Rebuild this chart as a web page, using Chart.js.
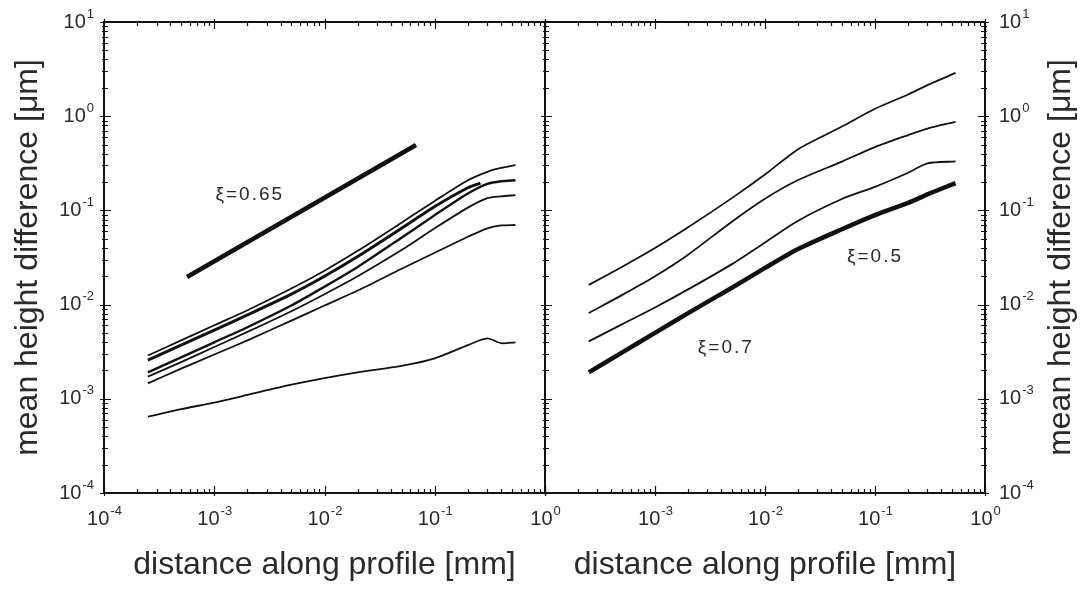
<!DOCTYPE html>
<html>
<head>
<meta charset="utf-8">
<script src="https://cdn.jsdelivr.net/npm/chart.js@4"></script>
<style>
  html, body { margin: 0; background: #fff; }
  #wrap { position: relative; width: 1083px; height: 592px; }
  canvas { position: absolute; left: 0; top: 0; }
</style>
</head>
<body>
<div id="wrap">
  <canvas id="leftChart" width="1083" height="592"></canvas>
  <canvas id="rightChart" width="1083" height="592"></canvas>
</div>
<script>
// data (distance in mm, mean height difference in um)
const xLeft = [2.5e-4, 5e-4, 1e-3, 2e-3, 5e-3, 1e-2, 2e-2, 5e-2, 0.1, 0.2, 0.3, 0.4, 0.54];
const curveA = [2.88e-3, 4.17e-3, 6.03e-3, 8.71e-3, 0.0148, 0.0229, 0.0372, 0.0741, 0.126, 0.209, 0.257, 0.282, 0.302];
const curveC = [1.91e-3, 2.75e-3, 3.98e-3, 5.75e-3, 9.77e-3, 0.0155, 0.0251, 0.0513, 0.0891, 0.151, 0.191, 0.204, 0.209];
const curveD = [1.72e-3, 2.45e-3, 3.55e-3, 5.13e-3, 8.51e-3, 0.0129, 0.0200, 0.0380, 0.0646, 0.107, 0.135, 0.141, 0.145];
const curveE = [1.46e-3, 2.09e-3, 2.95e-3, 4.17e-3, 6.76e-3, 9.77e-3, 0.0141, 0.0240, 0.0355, 0.0525, 0.0646, 0.0692, 0.070];
const curveF = [6.46e-4, 7.76e-4, 9.12e-4, 1.10e-3, 1.41e-3, 1.66e-3, 1.91e-3, 2.24e-3, 2.69e-3, 3.72e-3, 4.37e-3, 3.89e-3, 3.98e-3];
const xB = [2.5e-4, 5e-4, 1e-3, 2e-3, 5e-3, 1e-2, 2e-2, 5e-2, 0.1, 0.2, 0.26];
const curveB = [2.57e-3, 3.72e-3, 5.37e-3, 7.76e-3, 0.0129, 0.0200, 0.0324, 0.0646, 0.110, 0.174, 0.195];
const fitLeftX = [5.66e-4, 0.0676];
const fitLeftY = [0.0196, 0.494];

const xRight = [2.5e-4, 5e-4, 1e-3, 2e-3, 5e-3, 1e-2, 2e-2, 5e-2, 0.1, 0.2, 0.3, 0.54];
const curveR1 = [0.0162, 0.0251, 0.0398, 0.0661, 0.135, 0.240, 0.447, 0.776, 1.20, 1.70, 2.14, 2.88];
const curveR2 = [8.13e-3, 0.0126, 0.0200, 0.0339, 0.0759, 0.133, 0.210, 0.330, 0.470, 0.630, 0.740, 0.870];
const curveR3 = [4.07e-3, 6.17e-3, 9.33e-3, 0.0145, 0.0269, 0.0457, 0.0776, 0.132, 0.178, 0.251, 0.316, 0.331];
const curveR4 = [1.91e-3, 3.09e-3, 5.01e-3, 8.13e-3, 0.0151, 0.0245, 0.0389, 0.0631, 0.0891, 0.120, 0.148, 0.195];

const xExpLeft = [-4, -3, -2, -1, 0];
const xExpRight = [-3, -2, -1, 0];
const yExp = [-4, -3, -2, -1, 0, 1];

const xTitle = 'distance along profile [mm]';
const yTitle = 'mean height difference [\u03bcm]';

// slope labels: text, x, y (data coords)
const notesLeft = [['\u03be=0.65', 2.1e-3, 0.146]];
const notesRight = [['\u03be=0.7', 4.4e-3, 3.5e-3], ['\u03be=0.5', 0.1, 0.032]];

const INK = '#111';
const TEXT = '#2a2a2a';
const FONT = '"Liberation Sans", Arial, sans-serif';

function pts(xs, ys) {
  return xs.map((x, i) => ({ x: x, y: ys[i] }));
}

function line(data, w) {
  return {
    data: data,
    borderColor: INK,
    borderWidth: w || 1.8,
    pointRadius: 0,
    tension: 0.25,
    fill: false
  };
}

function drawPow(ctx, exp, x, y, align) {
  const base = '10', sup = String(exp);
  ctx.font = '20px ' + FONT;
  const wb = ctx.measureText(base).width;
  ctx.font = '13px ' + FONT;
  const ws = ctx.measureText(sup).width;
  let x0 = x - (wb + ws) / 2;
  if (align === 'right') x0 = x - wb - ws - 1;
  if (align === 'left') x0 = x;
  ctx.textAlign = 'left';
  ctx.textBaseline = 'middle';
  ctx.font = '20px ' + FONT;
  ctx.fillText(base, x0, y);
  ctx.font = '13px ' + FONT;
  ctx.fillText(sup, x0 + wb + 1, y - 8);
}

const framePlugin = {
  id: 'frame',
  afterDraw(chart, args, opts) {
    const ctx = chart.ctx;
    const a = chart.chartArea;
    const xs = chart.scales.x, ys = chart.scales.y;
    ctx.save();
    ctx.strokeStyle = INK;
    ctx.fillStyle = TEXT;
    ctx.lineWidth = 2;
    ctx.strokeRect(a.left, a.top, a.right - a.left, a.bottom - a.top);

    ctx.lineWidth = 1.2;
    ctx.beginPath();
    // ticks along x, on bottom and top edges
    for (let e = -4; e <= 0; e++) {
      for (let k = 1; k <= 9; k++) {
        const v = k * Math.pow(10, e);
        if (v > xs.max * 1.0001) break;
        const px = Math.round(xs.getPixelForValue(v)) + 0.5;
        const len = k === 1 ? 7 : 4;
        ctx.moveTo(px, a.bottom + (k === 1 ? 3 : 0));
        ctx.lineTo(px, a.bottom - len);
        ctx.moveTo(px, a.top - (k === 1 ? 3 : 0));
        ctx.lineTo(px, a.top + len);
      }
    }
    // ticks along y
    for (let e = -4; e <= 1; e++) {
      for (let k = 1; k <= 9; k++) {
        const v = k * Math.pow(10, e);
        if (v > ys.max * 1.0001) break;
        const py = Math.round(ys.getPixelForValue(v)) + 0.5;
        const len = k === 1 ? 7 : 4;
        if (opts.tickLeft) {
          ctx.moveTo(a.left - (k === 1 ? 4 : 2), py);
          ctx.lineTo(a.left + len, py);
        }
        if (opts.tickRight) {
          ctx.moveTo(a.right + (k === 1 ? 4 : 2), py);
          ctx.lineTo(a.right - len, py);
        }
      }
    }
    ctx.stroke();

    // tick labels
    opts.xExp.forEach(e => {
      drawPow(ctx, e, xs.getPixelForValue(Math.pow(10, e)), a.bottom + 26, 'center');
    });
    yExp.forEach(e => {
      const py = ys.getPixelForValue(Math.pow(10, e));
      if (opts.ySide === 'left') drawPow(ctx, e, a.left - 10, py, 'right');
      else drawPow(ctx, e, a.right + 14, py, 'left');
    });

    // axis titles
    ctx.textAlign = 'center';
    ctx.textBaseline = 'middle';
    ctx.font = '32px ' + FONT;
    ctx.fillText(xTitle, (a.left + a.right) / 2, 565);

    ctx.save();
    ctx.translate(opts.ySide === 'left' ? 28 : 1061, (a.top + a.bottom) / 2);
    ctx.rotate(-Math.PI / 2);
    ctx.fillText(yTitle, 0, 0);
    ctx.restore();

    // slope notes
    ctx.font = '19px ' + FONT;
    ctx.letterSpacing = '2px';
    opts.notes.forEach(n => {
      ctx.fillText(n[0], xs.getPixelForValue(n[1]), ys.getPixelForValue(n[2]));
    });
    ctx.restore();
  }
};

function panelOptions(pad, yPos, frame) {
  return {
    responsive: false,
    animation: false,
    devicePixelRatio: 1,
    layout: { padding: pad },
    plugins: {
      legend: { display: false },
      tooltip: { enabled: false },
      frame: frame
    },
    scales: {
      x: {
        type: 'logarithmic',
        min: 1e-4,
        max: 1,
        grid: { display: false },
        border: { display: false },
        ticks: { display: false },
        afterFit: s => { s.height = 99; }
      },
      y: {
        type: 'logarithmic',
        position: yPos,
        min: 1e-4,
        max: 10,
        grid: { display: false },
        border: { display: false },
        ticks: { display: false },
        afterFit: s => { s.width = yPos === 'left' ? 104 : 98; }
      }
    }
  };
}

new Chart(document.getElementById('leftChart'), {
  type: 'line',
  data: {
    datasets: [
      line(pts(fitLeftX, fitLeftY), 4.5),
      line(pts(xLeft, curveA)),
      line(pts(xB, curveB), 3),
      line(pts(xLeft, curveC), 2.4),
      line(pts(xLeft, curveD)),
      line(pts(xLeft, curveE)),
      line(pts(xLeft, curveF))
    ]
  },
  options: panelOptions({ left: 0, top: 22, right: 538, bottom: 0 }, 'left',
    { tickLeft: true, tickRight: false, xExp: xExpLeft, ySide: 'left', notes: notesLeft }),
  plugins: [framePlugin]
});

new Chart(document.getElementById('rightChart'), {
  type: 'line',
  data: {
    datasets: [
      line(pts(xRight, curveR1)),
      line(pts(xRight, curveR2)),
      line(pts(xRight, curveR3)),
      line(pts(xRight, curveR4), 4.5)
    ]
  },
  options: panelOptions({ left: 545, top: 22, right: 0, bottom: 0 }, 'right',
    { tickLeft: true, tickRight: true, xExp: xExpRight, ySide: 'right', notes: notesRight }),
  plugins: [framePlugin]
});
</script>
</body>
</html>
